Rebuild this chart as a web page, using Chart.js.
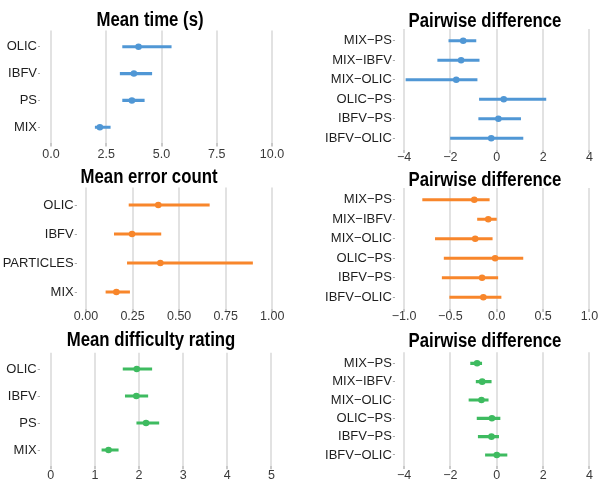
<!DOCTYPE html>
<html>
<head>
<meta charset="utf-8">
<script src="https://cdn.jsdelivr.net/npm/chart.js@4.4.1/dist/chart.umd.min.js"></script>
<style>
  html, body { margin: 0; padding: 0; background: #fff; overflow: hidden; }
  #wrap { position: relative; width: 601px; height: 482px; overflow: hidden; }
  #wrap canvas { position: absolute; }
</style>
</head>
<body>
<div id="wrap">
  <canvas id="timeChart" width="300" height="175" style="left:0;top:0"></canvas>
  <canvas id="timeDiffChart" width="301" height="175" style="left:300px;top:0"></canvas>
  <canvas id="errChart" width="300" height="175" style="left:0;top:160px"></canvas>
  <canvas id="errDiffChart" width="301" height="175" style="left:300px;top:160px"></canvas>
  <canvas id="rateChart" width="300" height="162" style="left:0;top:320px"></canvas>
  <canvas id="rateDiffChart" width="301" height="162" style="left:300px;top:320px"></canvas>
</div>
<script>
// categories
const methods = ['OLIC', 'IBFV', 'PS', 'MIX'];
const errMethods = ['OLIC', 'IBFV', 'PARTICLES', 'MIX'];
const pairs = ['MIX\u2212PS', 'MIX\u2212IBFV', 'MIX\u2212OLIC', 'OLIC\u2212PS', 'IBFV\u2212PS', 'IBFV\u2212OLIC'];

// mean time (s)
const timeMean = [3.96, 3.75, 3.66, 2.21];
const timeLo   = [3.24, 3.13, 3.24, 2.00];
const timeHi   = [5.44, 4.56, 4.22, 2.68];
const timeDiffMean = [-1.45, -1.54, -1.75, 0.30, 0.07, -0.24];
const timeDiffLo   = [-2.07, -2.55, -3.92, -0.75, -0.78, -2.00];
const timeDiffHi   = [-0.90, -0.76, -0.85, 2.12, 1.03, 1.13];

// mean error count
const errMean = [0.388, 0.247, 0.399, 0.163];
const errLo   = [0.231, 0.152, 0.222, 0.107];
const errHi   = [0.662, 0.402, 0.894, 0.234];
const errDiffMean = [-0.243, -0.092, -0.233, -0.018, -0.159, -0.145];
const errDiffLo   = [-0.800, -0.208, -0.663, -0.568, -0.589, -0.508];
const errDiffHi   = [-0.081, -0.004, -0.049, 0.282, 0.011, 0.046];

// mean difficulty rating
const rateMean = [1.95, 1.94, 2.16, 1.31];
const rateLo   = [1.64, 1.69, 1.95, 1.16];
const rateHi   = [2.29, 2.20, 2.45, 1.53];
const rateDiffMean = [-0.85, -0.63, -0.66, -0.21, -0.23, 0.00];
const rateDiffLo   = [-1.13, -0.89, -1.20, -0.85, -0.80, -0.49];
const rateDiffHi   = [-0.65, -0.24, -0.37, 0.14, 0.08, 0.44];

// tick values / labels
const timeTicks = [0, 2.5, 5, 7.5, 10];
const timeTickLabels = ['0.0', '2.5', '5.0', '7.5', '10.0'];
const diffTicks = [-4, -2, 0, 2, 4];
const diffTickLabels = ['\u22124', '\u22122', '0', '2', '4'];
const errTicks = [0, 0.25, 0.5, 0.75, 1];
const errTickLabels = ['0.00', '0.25', '0.50', '0.75', '1.00'];
const errDiffTicks = [-1, -0.5, 0, 0.5, 1];
const errDiffTickLabels = ['\u22121.0', '\u22120.5', '0.0', '0.5', '1.0'];
const rateTicks = [0, 1, 2, 3, 4, 5];
const rateTickLabels = ['0', '1', '2', '3', '4', '5'];

const BLUE = '#5097d5';
const ORANGE = '#f8862b';
const GREEN = '#3ebb60';

const SANS = '"Liberation Sans", Arial, sans-serif';

// bold panel title, squeezed a bit to look like a condensed face
const panelTitle = {
    id: 'panelTitle',
    afterDraw(chart, args, opts) {
        const c = chart.ctx;
        c.save();
        c.font = 'bold 19.5px ' + SANS;
        c.fillStyle = '#000';
        c.textAlign = 'center';
        c.textBaseline = 'alphabetic';
        c.translate(opts.x, opts.y);
        c.scale(0.86, 1);
        c.fillText(opts.text, 0, 0);
        c.restore();
    }
};

function makePanel(id, title, cats, mean, lo, hi, ticks, tickLabels, color, g) {
    const canvas = document.getElementById(id);
    const W = canvas.width, H = canvas.height;
    return new Chart(canvas.getContext('2d'), {
        type: 'bar',
        data: {
            datasets: [
                {
                    type: 'bar',
                    data: cats.map((c, i) => ({ x: [lo[i], hi[i]], y: i + 1 })),
                    backgroundColor: color,
                    borderWidth: 0,
                    barThickness: 2.5,
                },
                {
                    type: 'scatter',
                    data: cats.map((c, i) => ({ x: mean[i], y: i + 1 })),
                    backgroundColor: color,
                    borderWidth: 0,
                    pointRadius: 3.3,
                }
            ]
        },
        options: {
            indexAxis: 'y',
            responsive: false,
            animation: false,
            events: [],
            layout: { padding: { top: g.top, right: W - g.right, bottom: 0, left: 0 } },
            plugins: {
                legend: { display: false },
                tooltip: { enabled: false },
                panelTitle: { text: title, x: g.titleX, y: g.titleY },
            },
            scales: {
                x: {
                    type: 'linear',
                    min: g.xMin,
                    max: g.xMax,
                    afterBuildTicks: s => { s.ticks = ticks.map(v => ({ value: v })); },
                    afterFit: s => { s.height = H - g.bottom; },
                    ticks: {
                        autoSkip: false,
                        maxRotation: 0,
                        padding: g.labelPad,
                        color: '#3a3a3a',
                        font: { family: SANS, size: 12.5 },
                        callback: (v, i) => tickLabels[i],
                    },
                    grid: { color: '#e2e2e2', lineWidth: 2, tickLength: 3, tickColor: '#c8c8c8' },
                    border: { display: false },
                },
                y: {
                    type: 'linear',
                    reverse: true,
                    offset: false,
                    min: 0.4,
                    max: cats.length + 0.6,
                    afterBuildTicks: s => { s.ticks = cats.map((c, i) => ({ value: i + 1 })); },
                    afterFit: s => { s.width = g.left; },
                    ticks: {
                        autoSkip: false,
                        padding: 1,
                        color: '#1e1e1e',
                        font: { family: SANS, size: 13 },
                        callback: (v, i) => cats[i],
                    },
                    grid: { offset: false, drawOnChartArea: false, tickLength: 2, tickColor: '#aaa' },
                    border: { display: false },
                }
            }
        },
        plugins: [panelTitle]
    });
}

makePanel('timeChart', 'Mean time (s)', methods, timeMean, timeLo, timeHi, timeTicks, timeTickLabels, BLUE,
    { left: 40, right: 283, top: 30.6, bottom: 143.4, xMin: -0.5, xMax: 10.5, titleX: 150, titleY: 25.5, labelPad: 1 });
makePanel('timeDiffChart', 'Pairwise difference', pairs, timeDiffMean, timeDiffLo, timeDiffHi, diffTicks, diffTickLabels, BLUE,
    { left: 94.85, right: 301, top: 29, bottom: 150, xMin: -4.4, xMax: 4.326, titleX: 185, titleY: 27, labelPad: -3 });
makePanel('errChart', 'Mean error count', errMethods, errMean, errLo, errHi, errTicks, errTickLabels, ORANGE,
    { left: 76.7, right: 281.6, top: 27.6, bottom: 149.4, xMin: -0.05, xMax: 1.05, titleX: 149, titleY: 22.5, labelPad: -3 });
makePanel('errDiffChart', 'Pairwise difference', pairs, errDiffMean, errDiffLo, errDiffHi, errDiffTicks, errDiffTickLabels, ORANGE,
    { left: 94.85, right: 301, top: 28, bottom: 149, xMin: -1.1, xMax: 1.0815, titleX: 185, titleY: 25.5, labelPad: -2.5 });
makePanel('rateChart', 'Mean difficulty rating', methods, rateMean, rateLo, rateHi, rateTicks, rateTickLabels, GREEN,
    { left: 39.7, right: 282.4, top: 32.8, bottom: 146.2, xMin: -0.25, xMax: 5.25, titleX: 151, titleY: 26, labelPad: -1 });
makePanel('rateDiffChart', 'Pairwise difference', pairs, rateDiffMean, rateDiffLo, rateDiffHi, diffTicks, diffTickLabels, GREEN,
    { left: 94.85, right: 301, top: 32.3, bottom: 146, xMin: -4.4, xMax: 4.326, titleX: 185, titleY: 27, labelPad: -1 });
</script>
</body>
</html>
